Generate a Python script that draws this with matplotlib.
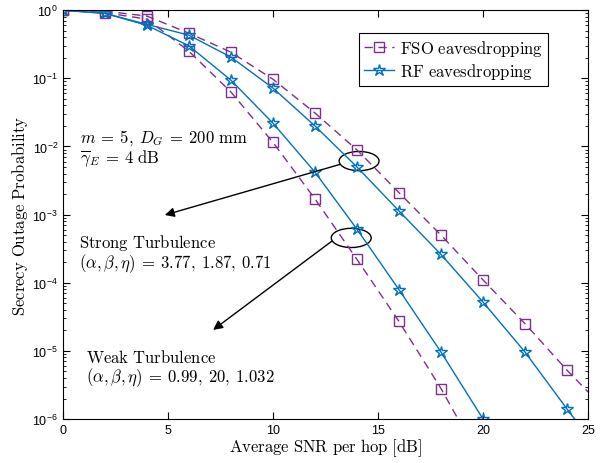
import numpy as np
import matplotlib.pyplot as plt
from matplotlib.patches import Ellipse

plt.rcParams['font.family'] = ['Liberation Sans', 'DejaVu Sans']
plt.rcParams['mathtext.fontset'] = 'cm'

# ------------------------------------------------------------
# Data (markers every 2 dB)
# ------------------------------------------------------------
snr_strong = [0, 2, 4, 6, 8, 10, 12, 14, 16, 18, 20, 22, 24, 25]
fso_strong = [1.0, 0.97, 0.82, 0.46, 0.242, 0.097, 0.031, 8.9e-3, 2.1e-3,
              5.0e-4, 1.1e-4, 2.5e-5, 5.2e-6, 2.5e-6]
rf_strong = [1.0, 0.90, 0.62, 0.43, 0.205, 0.072, 0.020, 5.0e-3, 1.13e-3,
             2.6e-4, 5.2e-5, 9.6e-6, 1.4e-6, 5.5e-7]

snr_weak = [0, 2, 4, 6, 8, 10, 12, 14, 16, 18, 20, 22]
fso_weak = [1.0, 0.92, 0.74, 0.25, 0.063, 0.0115, 1.7e-3, 2.2e-4, 2.7e-5,
            2.8e-6, 2.2e-7, 1.5e-8]
rf_weak = [1.0, 0.90, 0.60, 0.30, 0.094, 0.022, 4.2e-3, 6.1e-4, 7.9e-5,
           9.6e-6, 1.0e-6, 9.0e-8]

c_fso = '#7E2F8E'
c_rf = '#0072BD'

fig = plt.figure(figsize=(6.05, 4.64), dpi=100)
ax = fig.add_axes([0.104, 0.0948, 0.868, 0.881])

fso_style = dict(color=c_fso, linestyle=(0, (6, 4)), linewidth=1.0, marker='s',
                 markersize=6.5, markerfacecolor='none', markeredgewidth=1.0)
rf_style = dict(color=c_rf, linestyle='-', linewidth=1.0, marker='*',
                markersize=9, markerfacecolor='none', markeredgewidth=1.0)

ax.plot(snr_strong, fso_strong, markevery=list(range(13)),
        label=r'$\mathrm{FSO\ eavesdropping}$', **fso_style)
ax.plot(snr_strong, rf_strong, markevery=list(range(13)),
        label=r'$\mathrm{RF\ eavesdropping}$', **rf_style)
ax.plot(snr_weak, fso_weak, markevery=list(range(10)), **fso_style)
ax.plot(snr_weak, rf_weak, markevery=list(range(11)), **rf_style)

ax.set_yscale('log')
ax.set_xlim(0, 25)
ax.set_ylim(1e-6, 1)
ax.set_xticks([0, 5, 10, 15, 20, 25])
ax.tick_params(which='both', direction='in', top=True, right=True, labelsize=9)
ax.tick_params(which='major', length=5)
ax.tick_params(which='minor', length=2.5)
for s in ax.spines.values():
    s.set_linewidth(0.8)

ax.set_xlabel(r'$\mathrm{Average\ SNR\ per\ hop\ [dB]}$', fontsize=12, labelpad=0)
ax.set_ylabel(r'$\mathrm{Secrecy\ Outage\ Probability}$', fontsize=12, labelpad=2)

leg = ax.legend(loc='upper right', bbox_to_anchor=(0.94, 0.965), fontsize=12,
                fancybox=False, framealpha=1, edgecolor='black',
                handlelength=1.8, borderpad=0.3, labelspacing=0.2,
                handletextpad=0.4)
leg.get_frame().set_linewidth(0.8)

# annotations
ax.text(0.032, 0.69, r'$m\:=\:5,\: D_G\:=\:200\ \mathrm{mm}$', transform=ax.transAxes,
        fontsize=12, va='center')
ax.text(0.032, 0.64, r'$\overline{\gamma}_E\:=\:4\ \mathrm{dB}$', transform=ax.transAxes,
        fontsize=12, va='center')
ax.text(0.030, 0.432, r'$\mathrm{Strong\ Turbulence}$', transform=ax.transAxes,
        fontsize=12, va='center')
ax.text(0.030, 0.383, r'$(\alpha,\beta,\eta)\:=\:3.77,\:1.87,\:0.71$',
        transform=ax.transAxes, fontsize=12, va='center')
ax.text(0.044, 0.152, r'$\mathrm{Weak\ Turbulence}$', transform=ax.transAxes,
        fontsize=12, va='center')
ax.text(0.044, 0.103, r'$(\alpha,\beta,\eta)\:=\:0.99,\:20,\:1.032$',
        transform=ax.transAxes, fontsize=12, va='center')

for cx, cy in [(0.564, 0.631), (0.549, 0.443)]:
    ax.add_patch(Ellipse((cx, cy), 0.076, 0.047, transform=ax.transAxes,
                         fill=False, edgecolor='black', linewidth=1.0))

arrow = dict(arrowstyle='-|>', color='black', linewidth=1.0,
             mutation_scale=14, shrinkA=0, shrinkB=0)
ax.annotate('', xy=(0.194, 0.499), xytext=(0.528, 0.623),
            xycoords='axes fraction', arrowprops=arrow)
ax.annotate('', xy=(0.286, 0.218), xytext=(0.512, 0.435),
            xycoords='axes fraction', arrowprops=arrow)

fig.savefig('out.png', dpi=100)
